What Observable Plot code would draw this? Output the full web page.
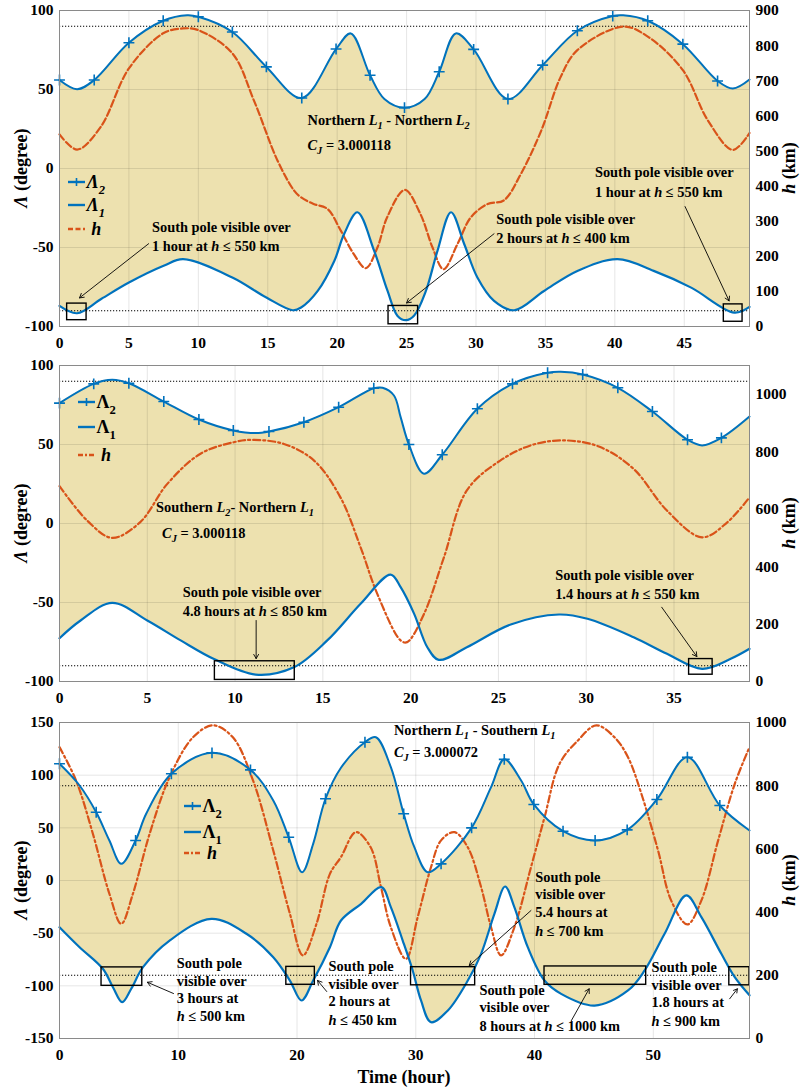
<!DOCTYPE html>
<html><head><meta charset="utf-8">
<script src="https://cdn.jsdelivr.net/npm/d3@7"></script>
<script src="https://cdn.jsdelivr.net/npm/@observablehq/plot@0.6"></script>
<style>
body{margin:0;background:#fff;}
#fig{position:relative;width:804px;height:1090px;font-family:"Liberation Serif","Times New Roman",serif;font-weight:bold;color:#000;overflow:hidden;}
.ann{position:absolute;white-space:nowrap;font-size:14.4px;line-height:1;transform:translateY(-50%);}
.ann sub{font-size:0.72em;vertical-align:-0.4em;line-height:0;}
.leg{position:absolute;white-space:nowrap;font-size:18px;line-height:1;transform:translateY(-50%);display:flex;align-items:center;}
.leg sub{font-size:0.7em;vertical-align:-0.45em;line-height:0;}
.ylab{position:absolute;font-size:18px;white-space:nowrap;transform:translate(-50%,-50%) rotate(-90deg);}
.xlab{position:absolute;font-size:18px;white-space:nowrap;transform:translate(-50%,-50%);}
</style></head><body><div id="fig"></div>
<script>
// ---------------- Panel 1: Northern L1 - Northern L2 ----------------
const p1_tL2 = [0, 1.27, 2.5, 5.0, 7.47, 9.2, 10.0, 12.45, 14.9, 17.45, 19.92, 20.98, 22.37, 23.4, 24.85, 26.3, 27.35, 28.55, 29.83, 32.3, 34.8, 37.3, 39.85, 40.6, 42.37, 44.9, 47.4, 48.5, 49.7];
const p1_L2  = [56, 50.2, 56, 79.6, 93.5, 97, 96, 86.4, 64.3, 44.6, 75.6, 85.5, 59, 44, 38.5, 44, 61.2, 85.5, 75.4, 44, 65.4, 87.2, 96.5, 97, 93.5, 78.7, 55.4, 50.6, 56.3];
const p1_markers = [0, 2.5, 5.0, 7.47, 10.0, 12.45, 14.9, 17.45, 19.92, 22.37, 24.85, 27.35, 29.83, 32.3, 34.8, 37.3, 39.85, 42.37, 44.9, 47.4];
const p1_tL1 = [0, 1.27, 3.0, 5.0, 7.5, 8.9, 12.45, 14.9, 16.8, 17.4, 18.6, 19.8, 20.5, 21.46, 22.66, 23.63, 24.35, 24.95, 25.55, 26.39, 27.23, 28.2, 29.15, 30.1, 31.3, 32.75, 34.9, 37.3, 40.2, 42.8, 45.5, 48.6, 49.7];
const p1_L1  = [-87, -91.6, -82.6, -72.2, -61.6, -57.4, -69, -81.7, -89.7, -88, -77.5, -58.4, -41.5, -27.7, -52, -77.5, -93.3, -96, -93, -77.5, -52, -27.7, -47.8, -69, -83.8, -89.7, -77.5, -64.8, -57.4, -64.8, -75.4, -91.2, -87.6];
const p1_tH  = [0, 1.27, 2.96, 5.0, 7.47, 8.9, 10.0, 12.45, 14.0, 15.7, 16.9, 17.4, 18.3, 19.3, 20.26, 21.2, 22.06, 22.9, 23.6, 24.87, 26.0, 26.87, 27.66, 28.67, 29.63, 30.84, 32.0, 33.24, 34.7, 36.1, 37.3, 40.6, 42.4, 44.9, 46.7, 48.5, 49.7];
const p1_h   = [547, 504, 568, 735, 835, 849, 844, 778, 644, 473, 387, 368, 349, 335, 273, 206, 166, 225, 311, 389, 320, 225, 163, 235, 311, 349, 359, 435, 558, 711, 787, 854, 825, 730, 587, 503, 551];
const p1_xTicks = [0, 5, 10, 15, 20, 25, 30, 35, 40, 45];
const p1_yTicks = [-100, -50, 0, 50, 100];
const p1_hTicks = [0, 100, 200, 300, 400, 500, 600, 700, 800, 900];
const p1_boxes  = [[0.55, 1.95, -96, -85.5], [23.7, 25.83, -98.6, -87], [47.85, 49.2, -97, -86]];
const p1_arrows = [[6.42, -47.6, 1.44, -81.9], [31.3, -41.3, 25.0, -85.1], [45.06, -24.1, 48.23, -83.8]];
const p1_texts = [
  [17.9, 30.5, 'Northern <i>L</i><sub><i>1</i></sub> - Northern <i>L</i><sub><i>2</i></sub>'],
  [17.9, 14.6, '<i>C</i><sub><i>J</i></sub> = 3.000118'],
  [6.7, -37.5, 'South pole visible over'],
  [6.7, -49.5, '1 hour at <i>h</i> ≤ 550 km'],
  [31.5, -32.4, 'South pole visible over'],
  [31.5, -44.5, '2 hours at <i>h</i> ≤ 400 km'],
  [38.6, -2.5, 'South pole visible over'],
  [38.6, -15.2, '1 hour at <i>h</i> ≤ 550 km']
];
const p1_legend = [0.55, [-8.7, -23.5, -38.3]];

// ---------------- Panel 2: Southern L2 - Northern L1 ----------------
const p2_tL2 = [0, 1.95, 3.0, 3.95, 5.94, 7.94, 9.9, 11.17, 11.93, 13.92, 15.9, 17.9, 18.4, 19.05, 19.43, 19.9, 20.76, 21.8, 23.8, 25.8, 27.8, 28.55, 29.8, 31.8, 33.77, 35.77, 36.6, 37.7, 39.3];
const p2_L2  = [76.2, 88.4, 91, 88.8, 77.2, 65.8, 58.9, 57.2, 58.2, 64.1, 73.6, 85.6, 85.9, 81, 67.3, 50, 31.5, 43.5, 72.6, 88.4, 95.4, 96, 94.3, 85.9, 70.9, 53, 49.4, 54.2, 67.7];
const p2_markers = [0, 1.95, 3.95, 5.94, 7.94, 9.9, 11.93, 13.92, 15.9, 17.9, 19.9, 21.8, 23.8, 25.8, 27.8, 29.8, 31.8, 33.77, 35.77, 37.7];
const p2_tL1 = [0, 1.2, 3.0, 5.0, 6.9, 8.8, 11.17, 13.35, 15.25, 17.15, 18.86, 19.43, 20.2, 20.95, 21.6, 23.2, 25.7, 28.45, 30.07, 32.7, 34.6, 36.6, 38.2, 39.3];
const p2_L1  = [-72.6, -61.4, -50.2, -61.4, -74, -85.8, -95.6, -91, -74, -50.8, -32.3, -40.3, -57.2, -78.3, -86.3, -78.3, -63.9, -57.6, -60.3, -72, -82.5, -92, -85.8, -79.3];
const p2_tH  = [0, 1.58, 3.0, 4.6, 6.14, 8.03, 9.93, 10.9, 12.78, 14.5, 16.0, 17.15, 18.1, 19.43, 19.8, 20.76, 21.9, 23.2, 25.1, 27.0, 28.9, 30.8, 32.7, 34.6, 36.6, 38.05, 39.3];
const p2_h   = [680, 560, 500, 555, 688, 793, 833, 841, 827, 769, 641, 467, 305, 143, 137, 235, 433, 665, 769, 825, 839, 816, 740, 595, 502, 555, 641];
const p2_xTicks = [0, 5, 10, 15, 20, 25, 30, 35];
const p2_yTicks = [-100, -50, 0, 50, 100];
const p2_hTicks = [0, 200, 400, 600, 800, 1000];
const p2_boxes  = [[8.85, 13.4, -99, -87.2], [35.86, 37.2, -95.7, -85.8]];
const p2_arrows = [[11.2, -61.4, 11.2, -85.5], [34.3, -53, 36.3, -84.2]];
const p2_texts = [
  [5.53, 10.1, 'Southern <i>L</i><sub><i>2</i></sub>- Northern <i>L</i><sub><i>1</i></sub>'],
  [5.87, -6.3, '<i>C</i><sub><i>J</i></sub> = 3.000118'],
  [7.05, -43.5, 'South pole visible over'],
  [7.05, -55.7, '4.8 hours at <i>h</i> ≤ 850 km'],
  [28.26, -32.9, 'South pole visible over'],
  [28.26, -44.9, '1.4 hours at <i>h</i> ≤ 550 km']
];
const p2_legend = [1.0, [76.8, 60.6, 43]];

// ---------------- Panel 3: Northern L1 - Southern L1 ----------------
const p3_tL2 = [0, 1.69, 3.09, 4.2, 5.2, 6.41, 7.3, 9.42, 12.84, 16.08, 18.0, 19.3, 20.43, 21.36, 22.4, 23.7, 25.72, 26.64, 27.9, 28.98, 29.88, 31.0, 32.13, 34.7, 36.34, 37.45, 38.87, 39.94, 42.4, 45.1, 47.8, 50.3, 52.87, 55.6, 58.1];
const p3_L2  = [110.8, 90.2, 64.8, 38, 15.8, 38, 63.3, 101.3, 121.2, 105, 76, 41, 7.9, 34.8, 77.6, 107, 131.3, 136, 107.6, 63.3, 31.6, 7.9, 15.8, 50, 88.6, 115, 94.9, 72.2, 46.8, 38, 48.1, 76.9, 117, 71.2, 47.5];
const p3_markers = [0, 3.09, 6.41, 9.42, 12.84, 16.08, 19.3, 22.4, 25.72, 28.98, 32.13, 34.7, 37.45, 39.94, 42.4, 45.1, 47.8, 50.3, 52.87, 55.6];
const p3_tL1 = [0, 1.69, 3.65, 4.5, 5.28, 6.04, 7.03, 9.27, 12.79, 15.74, 18.0, 19.4, 20.38, 21.36, 22.77, 23.7, 25.4, 27.1, 27.9, 28.9, 29.74, 30.44, 31.28, 32.7, 34.38, 35.5, 36.62, 37.52, 38.3, 39.43, 40.84, 42.24, 45.05, 47.87, 49.27, 50.95, 52.78, 54.05, 55.73, 56.86, 58.1];
const p3_L1  = [-44.3, -63.3, -83.8, -101.3, -115.5, -102.8, -82.3, -57, -36.4, -50.6, -72.8, -95, -113.9, -95, -63.3, -38, -22.1, -6.3, -25.3, -57, -85.4, -113.9, -134.5, -123.4, -95, -69.6, -31.6, -5.7, -25.3, -63.3, -95, -107.6, -118.7, -104.4, -85.4, -50.6, -14.2, -34.8, -69.6, -91.8, -109];
const p3_tH  = [0, 1.4, 2.81, 4.2, 5.2, 6.18, 7.59, 9.27, 11.24, 12.93, 14.6, 16.3, 18.0, 19.4, 20.5, 21.64, 22.77, 23.7, 24.96, 26.2, 27.07, 27.9, 29.17, 30.16, 31.28, 32.13, 33.25, 34.38, 35.5, 36.34, 37.18, 38.3, 39.7, 40.84, 42.1, 43.65, 45.2, 46.74, 47.87, 49.0, 50.4, 51.5, 52.87, 54.05, 55.46, 56.86, 58.1];
const p3_h   = [922, 816, 648, 458, 363, 458, 648, 827, 953, 991, 953, 816, 595, 395, 263, 363, 521, 574, 653, 605, 479, 352, 252, 384, 542, 627, 653, 605, 479, 352, 263, 352, 542, 700, 869, 943, 991, 953, 890, 774, 595, 437, 361, 437, 627, 806, 922];
const p3_xTicks = [0, 10, 20, 30, 40, 50];
const p3_yTicks = [-150, -100, -50, 0, 50, 100, 150];
const p3_hTicks = [0, 200, 400, 600, 800, 1000];
const p3_boxes  = [[3.54, 6.97, -100, -82.5], [19.1, 21.5, -99, -82], [29.6, 35.0, -99.5, -82.3], [40.84, 49.4, -99, -81.6], [56.4, 58.1, -99.5, -82.3]];
const p3_arrows = [[9.6, -107.3, 7.4, -96.6], [22.5, -105.4, 21.73, -94.9], [39.7, -28.5, 34.5, -80.7], [43.1, -133, 44.6, -102.8], [56.43, -112.3, 57.08, -102.8]];
const p3_texts = [
  [28.2, 142.4, 'Northern <i>L</i><sub><i>1</i></sub> - Southern <i>L</i><sub><i>1</i></sub>'],
  [28.2, 121.2, '<i>C</i><sub><i>J</i></sub> = 3.000072'],
  [9.92, -79, 'South pole'], [9.92, -95.5, 'visible over'], [9.92, -112, '3 hours at'], [9.92, -129.5, '<i>h</i> ≤ 500 km'],
  [22.7, -82, 'South pole'], [22.7, -98.5, 'visible over'], [22.7, -115, '2 hours at'], [22.7, -133, '<i>h</i> ≤ 450 km'],
  [40.1, 2.8, 'South pole'], [40.1, -13.7, 'visible over'], [40.1, -30.2, '5.4 hours at'], [40.1, -48, '<i>h</i> ≤ 700 km'],
  [35.4, -104.4, 'South pole'], [35.4, -121, 'visible over'], [35.4, -138.6, '8 hours at <i>h</i> ≤ 1000 km'],
  [49.9, -83, 'South pole'], [49.9, -99.7, 'visible over'], [49.9, -116.2, '1.8 hours at'], [49.9, -134.3, '<i>h</i> ≤ 900 km']
];
const p3_legend = [10.4, [70.3, 45.5, 25.3]];

// ---------------- drawing ----------------
const BLUE = "#0072BD", ORANGE = "#D95319", FILL = "#EDE1AF";
const fig = document.getElementById("fig");
const rows = (t, v) => t.map((d, i) => ({t: d, v: v[i]}));

const panels = [
  {top: 0,   height: 350, mt: 10, mb: 24, xMax: 49.7, yDomain: [-100, 100], hMax: 900,
   tL2: p1_tL2, L2: p1_L2, markers: p1_markers, tL1: p1_tL1, L1: p1_L1, tH: p1_tH, h: p1_h,
   xTicks: p1_xTicks, yTicks: p1_yTicks, hTicks: p1_hTicks, boxes: p1_boxes, arrows: p1_arrows,
   texts: p1_texts, legend: p1_legend, dash: "7,3", italicLam: true},
  {top: 348, height: 357, mt: 17, mb: 24, xMax: 39.3, yDomain: [-100, 100], hMax: 1100,
   tL2: p2_tL2, L2: p2_L2, markers: p2_markers, tL1: p2_tL1, L1: p2_L1, tH: p2_tH, h: p2_h,
   xTicks: p2_xTicks, yTicks: p2_yTicks, hTicks: p2_hTicks, boxes: p2_boxes, arrows: p2_arrows,
   texts: p2_texts, legend: p2_legend, dash: "7,3,2,3", italicLam: false},
  {top: 705, height: 385, mt: 17, mb: 52, xMax: 58.1, yDomain: [-150, 150], hMax: 1000,
   tL2: p3_tL2, L2: p3_L2, markers: p3_markers, tL1: p3_tL1, L1: p3_L1, tH: p3_tH, h: p3_h,
   xTicks: p3_xTicks, yTicks: p3_yTicks, hTicks: p3_hTicks, boxes: p3_boxes, arrows: p3_arrows,
   texts: p3_texts, legend: p3_legend, dash: "7,3,2,3", italicLam: false}
];

function addDiv(cls, left, top, html) {
  const d = document.createElement("div");
  d.className = cls;
  d.style.left = left + "px";
  d.style.top = top + "px";
  d.innerHTML = html;
  fig.appendChild(d);
  return d;
}

for (const p of panels) {
  const [y0, y1] = p.yDomain;
  const toL = h => y0 + h * (y1 - y0) / p.hMax;
  const fromL = d => String(Math.round((d - y0) * p.hMax / (y1 - y0)));
  const L2 = rows(p.tL2, p.L2), L1 = rows(p.tL1, p.L1);
  const H = rows(p.tH, p.h).map(d => ({t: d.t, v: toL(d.v)}));
  const mk = L2.filter(d => p.markers.includes(d.t));
  const plot = Plot.plot({
    width: 804, height: p.height,
    marginLeft: 59, marginRight: 55, marginTop: p.mt, marginBottom: p.mb,
    style: {fontFamily: '"Liberation Serif", "Times New Roman", serif', fontSize: "15.5px", fontWeight: "bold", color: "#000", background: "transparent", overflow: "visible"},
    x: {domain: [0, p.xMax]},
    y: {domain: p.yDomain},
    marks: [
      Plot.areaY(L2, {x: "t", y1: y0, y2: "v", fill: FILL, curve: "catmull-rom"}),
      Plot.areaY(L1, {x: "t", y1: y0, y2: "v", fill: "#fff", curve: "catmull-rom"}),
      Plot.gridX(p.xTicks, {stroke: "#000", strokeOpacity: 0.1}),
      Plot.gridY(p.yTicks, {stroke: "#000", strokeOpacity: 0.1}),
      Plot.ruleY([90, -90], {stroke: "#000", strokeDasharray: "1.2,1.8", strokeWidth: 1.1}),
      Plot.line(H, {x: "t", y: "v", stroke: ORANGE, strokeWidth: 2.2, strokeDasharray: p.dash, curve: "catmull-rom"}),
      Plot.line(L1, {x: "t", y: "v", stroke: BLUE, strokeWidth: 2.2, curve: "catmull-rom"}),
      Plot.line(L2, {x: "t", y: "v", stroke: BLUE, strokeWidth: 2, curve: "catmull-rom"}),
      Plot.dot(mk, {x: "t", y: "v", symbol: "plus", r: 3.6, stroke: BLUE, strokeWidth: 1.6}),
      Plot.rect(p.boxes, {x1: d => d[0], x2: d => d[1], y1: d => d[2], y2: d => d[3], stroke: "#000", strokeWidth: 1.4, fill: "none"}),
      Plot.arrow(p.arrows, {x1: d => d[0], y1: d => d[1], x2: d => d[2], y2: d => d[3], stroke: "#000", strokeWidth: 0.9, headLength: 8}),
      Plot.frame({stroke: "#8a8a8a", strokeWidth: 1}),
      Plot.axisX(p.xTicks, {anchor: "bottom", tickSize: 0, tickPadding: 10, tickFormat: d => String(d), label: null}),
      Plot.axisY(p.yTicks, {anchor: "left", tickSize: 0, tickPadding: 6, tickFormat: d => String(d), label: null}),
      Plot.axisY(p.hTicks.map(toL), {anchor: "right", tickSize: 0, tickPadding: 6, tickFormat: fromL, label: null})
    ]
  });
  const wrap = document.createElement("div");
  wrap.style.cssText = `position:absolute;left:0;top:${p.top}px;width:804px;height:${p.height}px;`;
  wrap.appendChild(plot);
  fig.appendChild(wrap);

  const sx = plot.scale("x"), sy = plot.scale("y");
  const X = t => sx.apply(t), Y = v => p.top + sy.apply(v);

  for (const [t, v, html] of p.texts) addDiv("ann", X(t), Y(v), html);

  // legend
  const [lt, lys] = p.legend;
  const lam = p.italicLam ? '<i>Λ</i>' : 'Λ';
  const sub = s => p.italicLam ? `<sub><i>${s}</i></sub>` : `<sub>${s}</sub>`;
  const sw = (dash, plus, color) => `<svg width="19" height="12" style="margin-right:1px"><line x1="1" y1="6" x2="18" y2="6" stroke="${color}" stroke-width="2.4" ${dash ? `stroke-dasharray="${dash}"` : ""}/>${plus ? `<line x1="9.5" y1="2" x2="9.5" y2="10" stroke="${color}" stroke-width="1.6"/><line x1="5.5" y1="6" x2="13.5" y2="6" stroke="${color}" stroke-width="1.6"/>` : ""}</svg>`;
  addDiv("leg", X(lt), Y(lys[0]), sw(null, true, BLUE) + `<span>${lam}${sub(2)}</span>`);
  addDiv("leg", X(lt), Y(lys[1]), sw(null, false, BLUE) + `<span>${lam}${sub(1)}</span>`);
  addDiv("leg", X(lt), Y(lys[2]), sw(p.dash === "7,3" ? "5,2.5" : "5,2,2,2", false, ORANGE) + `<span><i>&nbsp;h</i></span>`);

  // axis titles
  const midY = p.top + (sy.apply(y0) + sy.apply(y1)) / 2;
  addDiv("ylab", 21, midY, '<i>Λ</i> (degree)');
  addDiv("ylab", 789, midY, '<i>h</i> (km)');
}
addDiv("xlab", 404, 1077, 'Time (hour)');
</script></body></html>
